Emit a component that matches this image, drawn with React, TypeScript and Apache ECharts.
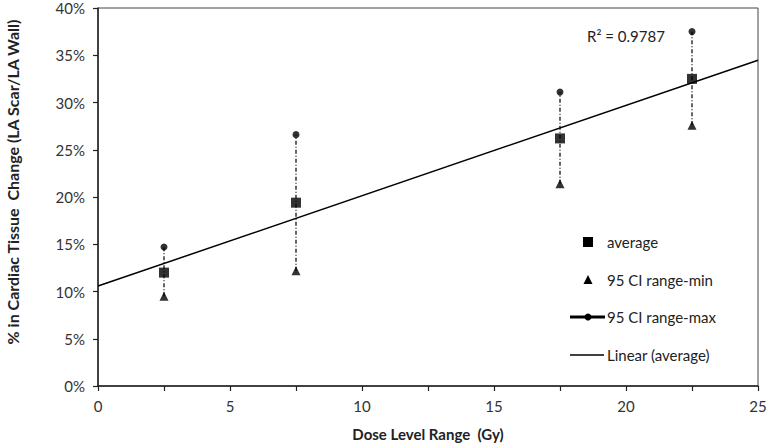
import React, { useEffect, useRef } from "react";
import * as echarts from "echarts";

const doses = [2.5, 7.5, 17.5, 22.5];
const average = [12.0, 19.4, 26.2, 32.5];
const ciMin = [9.5, 12.2, 21.4, 27.6];
const ciMax = [14.7, 26.6, 31.1, 37.5];
const xTicks = [0, 5, 10, 15, 20, 25];
const rSquaredLabel = "R² = 0.9787";
const legendNames = ["average", "95 CI range-min", "95 CI range-max", "Linear (average)"];

const FONT = "Lato, 'Liberation Sans', sans-serif";

function linearFit(xs: number[], ys: number[]) {
  const n = xs.length;
  const mx = xs.reduce((a, b) => a + b, 0) / n;
  const my = ys.reduce((a, b) => a + b, 0) / n;
  let sxy = 0, sxx = 0;
  for (let i = 0; i < n; i++) {
    sxy += (xs[i] - mx) * (ys[i] - my);
    sxx += (xs[i] - mx) * (xs[i] - mx);
  }
  const slope = sxy / sxx;
  return { slope, intercept: my - slope * mx };
}

export default function App() {
  const ref = useRef<HTMLDivElement>(null);
  useEffect(() => {
    if (!ref.current) return;
    const chart = echarts.init(ref.current, null, { renderer: "svg" });
    const fit = linearFit(doses, average);
    const trend = [
      [0, fit.intercept],
      [25, fit.intercept + fit.slope * 25],
    ];
    const lx = 588;
    const ly = [242, 280, 317, 355];
    chart.setOption({
      animation: false,
      backgroundColor: "#fff",
      grid: {
        left: 98, right: 10, top: 8, bottom: 58,
        containLabel: false, outerBoundsMode: "none",
        show: true, borderColor: "#444", borderWidth: 1, backgroundColor: "transparent",
      },
      xAxis: {
        type: "value", min: 0, max: 25, interval: 2.5,
        name: "Dose Level Range  (Gy)", nameLocation: "middle", nameGap: 40,
        nameTextStyle: { fontFamily: FONT, fontSize: 15, fontWeight: "bold", color: "#222" },
        axisLine: { show: true, onZero: false, lineStyle: { color: "#222", width: 1.5 } },
        axisTick: { show: true, length: 5, lineStyle: { color: "#222", width: 1.2 } },
        splitLine: { show: false },
        axisLabel: {
          margin: 12, color: "#333", fontFamily: FONT, fontSize: 15,
          formatter: (v: number) => (xTicks.includes(v) ? String(v) : ""),
        },
      },
      yAxis: {
        type: "value", min: 0, max: 40, interval: 5,
        name: "% in Cardiac Tissue  Change (LA Scar/LA Wall)", nameLocation: "middle", nameGap: 78, nameRotate: 90,
        nameTextStyle: { fontFamily: FONT, fontSize: 16, fontWeight: "bold", color: "#222", padding: [0, 0, 0, 30] },
        axisLine: { show: true, lineStyle: { color: "#222", width: 1.5 } },
        axisTick: { show: true, length: 5, lineStyle: { color: "#222", width: 1.2 } },
        splitLine: { show: false },
        axisLabel: {
          margin: 13, color: "#333", fontFamily: FONT, fontSize: 15, lineHeight: 14,
          formatter: (v: number) => v + "%",
        },
      },
      series: [
        {
          type: "custom",
          name: "ci",
          data: doses.map((d, i) => [d, ciMin[i], ciMax[i]]),
          z: 1,
          renderItem: (params: any, api: any) => {
            const p1 = api.coord([api.value(0), api.value(1)]);
            const p2 = api.coord([api.value(0), api.value(2)]);
            return {
              type: "line",
              shape: { x1: p1[0], y1: p1[1], x2: p2[0], y2: p2[1] },
              style: { stroke: "#000", lineWidth: 1.2, lineDash: [4, 2, 1, 2] },
            };
          },
        },
        {
          type: "line", name: legendNames[3], data: trend, showSymbol: false,
          lineStyle: { color: "#000", width: 1.5 }, z: 2,
        },
        {
          type: "scatter", name: legendNames[0],
          data: doses.map((d, i) => [d, average[i]]),
          symbol: "rect", symbolSize: 10, itemStyle: { color: "#000" }, z: 3,
        },
        {
          type: "scatter", name: legendNames[1],
          data: doses.map((d, i) => [d, ciMin[i]]),
          symbol: "triangle", symbolSize: 9, itemStyle: { color: "#000" }, z: 3,
        },
        {
          type: "scatter", name: legendNames[2],
          data: doses.map((d, i) => [d, ciMax[i]]),
          symbol: "circle", symbolSize: 7, itemStyle: { color: "#000" }, z: 3,
        },
      ],
      graphic: [
        {
          type: "text", left: 587, top: 28,
          style: { text: rSquaredLabel, font: `15px ${FONT}`, fill: "#222" },
        },
        { type: "rect", shape: { x: lx - 5, y: ly[0] - 5, width: 10, height: 10 }, style: { fill: "#000" } },
        { type: "polygon", shape: { points: [[lx, ly[1] - 5], [lx + 4.5, ly[1] + 4], [lx - 4.5, ly[1] + 4]] }, style: { fill: "#000" } },
        { type: "line", shape: { x1: 570, y1: ly[2], x2: 605, y2: ly[2] }, style: { stroke: "#000", lineWidth: 3 } },
        { type: "circle", shape: { cx: lx, cy: ly[2], r: 3.5 }, style: { fill: "#000" } },
        { type: "line", shape: { x1: 570, y1: ly[3], x2: 604, y2: ly[3] }, style: { stroke: "#000", lineWidth: 1.5 } },
        ...legendNames.map((n, i) => ({
          type: "text", x: 607, y: ly[i],
          style: { text: n, font: `15px ${FONT}`, fill: "#222", verticalAlign: "middle" },
        })),
      ],
    });
    return () => chart.dispose();
  }, []);
  return <div ref={ref} style={{ width: 768, height: 444, position: "absolute", left: 0, top: 0 }} />;
}
